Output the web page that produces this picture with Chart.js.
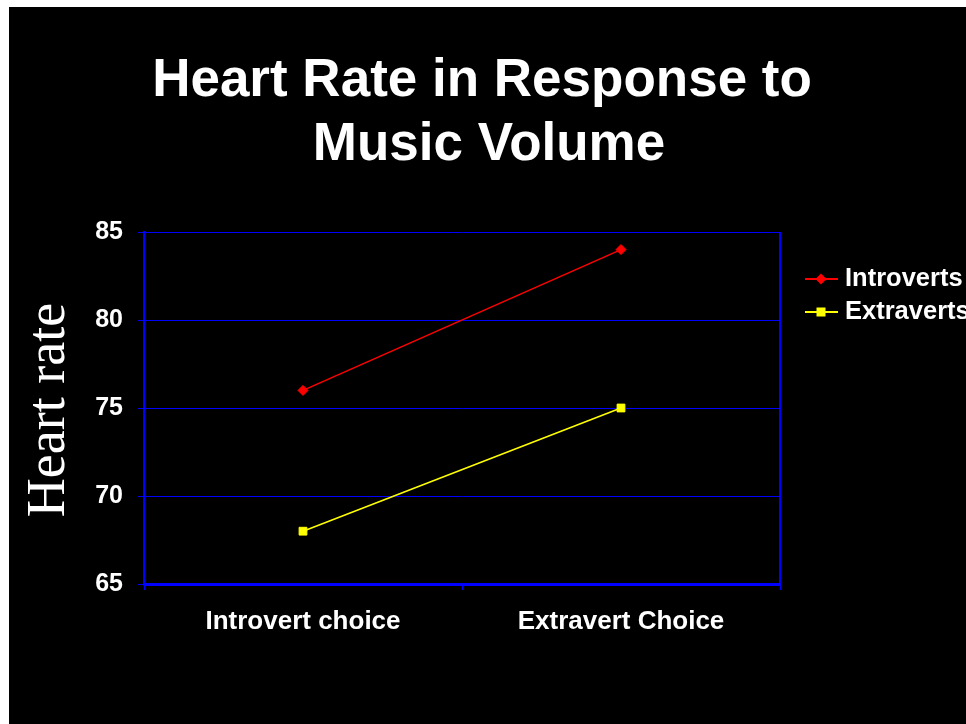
<!DOCTYPE html>
<html>
<head>
<meta charset="utf-8">
<script src="https://cdn.jsdelivr.net/npm/chart.js@4"></script>
<style>
  html, body { margin: 0; padding: 0; background: #ffffff; }
  #slide { position: absolute; left: 9px; top: 7px; width: 957px; height: 717px; background: #000000; }
</style>
</head>
<body>
<div id="slide"><canvas id="chartHeartRate" width="957" height="717"></canvas></div>
<script>
const categories = ['Introvert choice', 'Extravert Choice'];
const introverts = [76, 84];
const extraverts = [68, 75];
const yTicks = [65, 70, 75, 80, 85];
const titleLines = ['Heart Rate in Response to', 'Music Volume'];
const yTitle = 'Heart rate';

const BLUE = '#0000ff';
const FONT = 'Liberation Sans, Arial, sans-serif';

// titulo do slide, borda direita do plot, titulo do eixo y e legenda a direita
const slideDecor = {
  id: 'slideDecor',
  afterDraw(chart) {
    const { ctx, chartArea } = chart;
    ctx.save();
    ctx.fillStyle = '#ffffff';
    ctx.font = 'bold 53px ' + FONT;
    ctx.textAlign = 'center';
    ctx.textBaseline = 'alphabetic';
    ctx.fillText(titleLines[0], 473, 89);
    ctx.fillText(titleLines[1], 480, 153);

    ctx.strokeStyle = BLUE;
    ctx.lineWidth = 2;
    ctx.beginPath();
    ctx.moveTo(chartArea.right, chartArea.top);
    ctx.lineTo(chartArea.right, chartArea.bottom);
    ctx.stroke();

    ctx.textBaseline = 'middle';
    ctx.font = '54px Liberation Serif, Times New Roman, serif';
    ctx.translate(41, 403);
    ctx.rotate(-Math.PI / 2);
    ctx.fillText(yTitle, 0, 0);
    ctx.restore();

    ctx.save();
    chart.data.datasets.forEach((ds, i) => {
      const y = 272 + i * 33;
      ctx.strokeStyle = ds.borderColor;
      ctx.lineWidth = 2;
      ctx.beginPath();
      ctx.moveTo(796, y);
      ctx.lineTo(829, y);
      ctx.stroke();
      ctx.fillStyle = ds.borderColor;
      ctx.beginPath();
      if (ds.pointStyle === 'rectRot') {
        ctx.moveTo(812, y - 5.5); ctx.lineTo(817.5, y); ctx.lineTo(812, y + 5.5); ctx.lineTo(806.5, y);
      } else {
        ctx.rect(807.5, y - 4.5, 9, 9);
      }
      ctx.fill();
      ctx.fillStyle = '#ffffff';
      ctx.font = 'bold 25.5px ' + FONT;
      ctx.textAlign = 'left';
      ctx.textBaseline = 'middle';
      ctx.fillText(ds.label, 836, y);
    });
    ctx.restore();
  },
};

new Chart(document.getElementById('chartHeartRate'), {
  type: 'line',
  data: {
    labels: categories,
    datasets: [
      {
        label: 'Introverts',
        data: introverts,
        borderColor: '#ff0000',
        backgroundColor: '#ff0000',
        borderWidth: 1.5,
        pointStyle: 'rectRot',
        pointRadius: 5,
        pointBorderWidth: 1,
        tension: 0,
      },
      {
        label: 'Extraverts',
        data: extraverts,
        borderColor: '#ffff00',
        backgroundColor: '#ffff00',
        borderWidth: 1.5,
        pointStyle: 'rect',
        pointRadius: 5.5,
        pointBorderWidth: 1,
        tension: 0,
      },
    ],
  },
  options: {
    responsive: false,
    animation: false,
    layout: { padding: { left: 0, right: 186, top: 225, bottom: 0 } },
    plugins: {
      legend: { display: false },
      tooltip: { enabled: false },
      title: { display: false },
    },
    scales: {
      x: {
        offset: true,
        grid: { offset: true, drawOnChartArea: false, drawTicks: true, tickLength: 6, color: BLUE, lineWidth: 1 },
        border: { display: true, color: BLUE, width: 3 },
        ticks: { color: '#ffffff', padding: 16, maxRotation: 0, font: { family: FONT, size: 26, weight: 'bold' } },
        afterFit(scale) { scale.height = 140; },
      },
      y: {
        min: 65,
        max: 85,
        afterBuildTicks(scale) { scale.ticks = yTicks.map((v) => ({ value: v })); },
        grid: { color: BLUE, lineWidth: 1, drawTicks: true, tickLength: 6 },
        border: { display: true, color: BLUE, width: 2 },
        ticks: { color: '#ffffff', padding: 15, font: { family: FONT, size: 25, weight: 'bold' } },
        afterFit(scale) { scale.width = 135; },
      },
    },
  },
  plugins: [slideDecor],
});
</script>
</body>
</html>
